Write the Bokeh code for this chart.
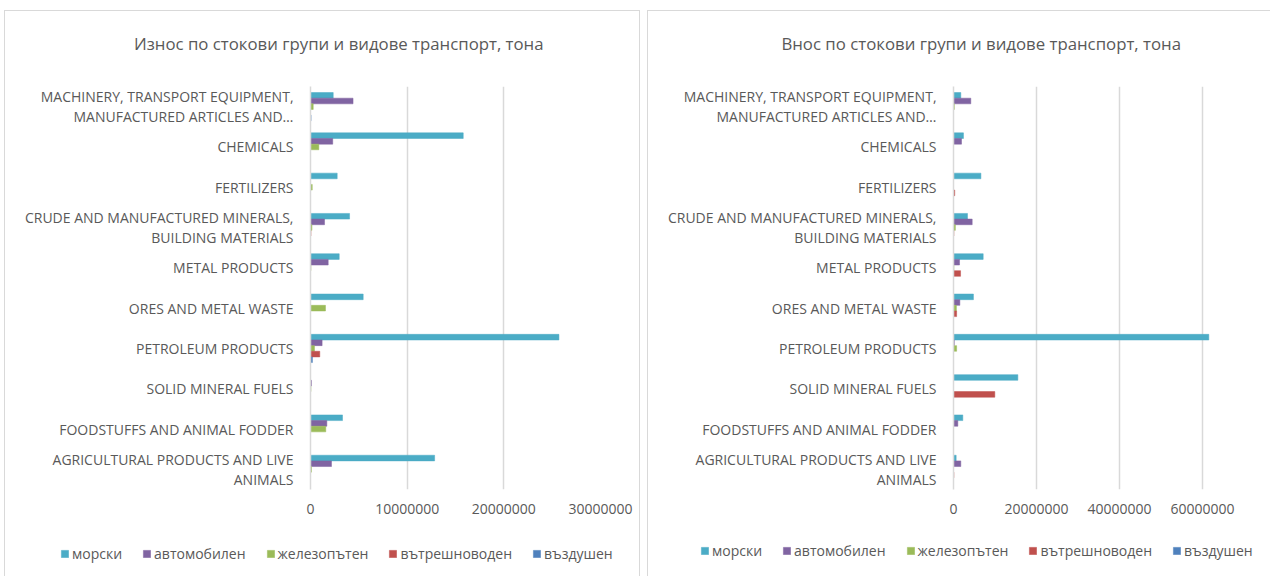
from bokeh.plotting import figure
from bokeh.models import (ColumnDataSource, FactorRange, FixedTicker, BasicTickFormatter,
                          Legend, LegendItem, Range1d, Spacer, Label)
from bokeh.transform import dodge
from bokeh.layouts import row, column
from bokeh.embed import file_html
from bokeh.resources import INLINE

categories = [
    "AGRICULTURAL PRODUCTS AND LIVE\nANIMALS",
    "FOODSTUFFS AND ANIMAL FODDER",
    "SOLID MINERAL FUELS",
    "PETROLEUM PRODUCTS",
    "ORES AND METAL WASTE",
    "METAL PRODUCTS",
    "CRUDE AND MANUFACTURED MINERALS,\nBUILDING MATERIALS",
    "FERTILIZERS",
    "CHEMICALS",
    "MACHINERY, TRANSPORT EQUIPMENT,\nMANUFACTURED ARTICLES AND…",
]
series_names = ["морски", "автомобилен", "железопътен", "вътрешноводен", "въздушен"]
colors = ["#4BACC6", "#8064A2", "#9BBB59", "#C0504D", "#4F81BD"]

# Export (Износ), tonnes
exp_morski = [12840000, 3310000, 0, 25700000, 5450000, 2970000, 4040000, 2760000, 15800000, 2350000]
exp_avto = [2170000, 1690000, 100000, 1200000, 0, 1830000, 1450000, 0, 2300000, 4400000]
exp_zhp = [100000, 1580000, 50000, 410000, 1550000, 50000, 150000, 180000, 860000, 280000]
exp_vatr = [0, 0, 0, 960000, 0, 0, 50000, 0, 0, 0]
exp_vazd = [0, 0, 0, 200000, 0, 0, 0, 0, 0, 60000]

# Import (Внос), tonnes
imp_morski = [640000, 2240000, 15500000, 61500000, 4800000, 7150000, 3370000, 6600000, 2400000, 1760000]
imp_avto = [1760000, 1040000, 0, 200000, 1530000, 1450000, 4500000, 0, 1930000, 4170000]
imp_zhp = [0, 0, 0, 750000, 700000, 100000, 450000, 0, 0, 200000]
imp_vatr = [100000, 0, 9950000, 0, 750000, 1700000, 100000, 300000, 0, 0]
imp_vazd = [0, 0, 0, 0, 0, 0, 0, 0, 0, 0]

exp_ticks = [0, 10000000, 20000000, 30000000]
imp_ticks = [0, 20000000, 40000000, 60000000]

exp_title = "Износ по стокови групи и видове транспорт, тона"
imp_title = "Внос по стокови групи и видове транспорт, тона"

FONT = "Open Sans"
TXT = "#595959"
BORDER = "1px solid #d9d9d9"
OFFSETS = [0.28, 0.14, 0.0, -0.14, -0.28]


def make_title(text, width, xfrac, styles):
    t = figure(width=width, height=50, output_backend="svg", toolbar_location=None,
               x_range=Range1d(0, 1), y_range=Range1d(0, 1), title_location=None,
               min_border_left=0, min_border_right=0, min_border_top=0, min_border_bottom=0)
    t.frame_align = False
    t.styles = styles
    t.axis.visible = False
    t.grid.visible = False
    t.outline_line_color = None
    t.add_layout(Label(x=xfrac, y=0.36, text=text, text_align="center",
                       text_baseline="middle", text_font=FONT, text_font_size="16.8px",
                       text_color=TXT))
    return t


def bars(p, src):
    rs = []
    for i, col in enumerate(colors):
        r = p.hbar(y=dodge("cat", OFFSETS[i], range=p.y_range), right=f"s{i}", left=0,
                   height=0.14, source=src, fill_color=col, line_color=col, line_alpha=0.5)
        rs.append(r)
    return rs


def make_chart(src, ticks, xend, width, border_left, border_right, styles):
    p = figure(y_range=FactorRange(*categories), x_range=Range1d(0, xend),
               width=width, height=470, output_backend="svg", toolbar_location=None,
               title_location=None,
               min_border_left=border_left, min_border_right=border_right,
               min_border_top=26, min_border_bottom=41)
    p.frame_align = False
    p.styles = styles
    p.outline_line_color = None
    bars(p, src)
    p.ygrid.grid_line_color = None
    p.xgrid.grid_line_color = "#d9d9d9"
    p.xgrid.grid_line_width = 1.5
    p.xaxis.ticker = FixedTicker(ticks=ticks)
    p.xaxis.formatter = BasicTickFormatter(use_scientific=False)
    p.xaxis.axis_line_color = None
    p.xaxis.major_tick_line_color = None
    p.xaxis.minor_tick_line_color = None
    p.xaxis.major_label_text_font = FONT
    p.xaxis.major_label_text_font_size = "14px"
    p.xaxis.major_label_text_color = TXT
    p.xaxis.major_label_standoff = 8
    p.yaxis.axis_line_color = "#d9d9d9"
    p.yaxis.axis_line_width = 1.5
    p.yaxis.major_tick_line_color = None
    p.yaxis.minor_tick_line_color = None
    p.yaxis.major_label_text_font = FONT
    p.yaxis.major_label_text_font_size = "14px"
    p.yaxis.major_label_text_color = TXT
    p.yaxis.major_label_text_line_height = 1.05
    p.yaxis.major_label_standoff = 11
    return p


def make_legend(src, width, legend_x, legend_y, styles):
    # the same bars, kept out of view; only their legend swatches show
    lp = figure(width=width, height=46, output_backend="svg", toolbar_location=None,
                y_range=FactorRange(*categories), x_range=Range1d(-2, -1),
                title_location=None,
                min_border_left=0, min_border_right=0, min_border_top=0, min_border_bottom=0)
    lp.frame_align = False
    lp.styles = styles
    lp.axis.visible = False
    lp.grid.visible = False
    lp.outline_line_color = None
    rs = bars(lp, src)
    items = [LegendItem(label=name, renderers=[r]) for name, r in zip(series_names, rs)]
    legend = Legend(items=items, orientation="horizontal", location=(legend_x, legend_y),
                    glyph_width=9, glyph_height=9, label_standoff=3, spacing=20,
                    label_text_font=FONT, label_text_font_size="14px", label_text_color=TXT,
                    border_line_color=None, background_fill_alpha=0, padding=0, margin=0)
    lp.add_layout(legend, "center")
    return lp


exp_src = ColumnDataSource(dict(cat=categories, s0=exp_morski, s1=exp_avto, s2=exp_zhp,
                                s3=exp_vatr, s4=exp_vazd))
imp_src = ColumnDataSource(dict(cat=categories, s0=imp_morski, s1=imp_avto, s2=imp_zhp,
                                s3=imp_vatr, s4=imp_vazd))

LW, RW = 636, 623
left_panel = column(
    make_title(exp_title, LW, 0.524,
               {"border-left": BORDER, "border-top": BORDER, "border-right": BORDER,
                "box-sizing": "border-box"}),
    make_chart(exp_src, exp_ticks, 30000000, LW, 305, 41,
               {"border-left": BORDER, "border-right": BORDER, "box-sizing": "border-box"}),
    make_legend(exp_src, LW, 55, 13,
                {"border-left": BORDER, "border-right": BORDER, "box-sizing": "border-box"}),
    spacing=0)
right_panel = column(
    make_title(imp_title, RW, 0.534,
               {"border-left": BORDER, "border-top": BORDER, "box-sizing": "border-box"}),
    make_chart(imp_src, imp_ticks, 76600000, RW, 305, 0,
               {"border-left": BORDER, "box-sizing": "border-box"}),
    make_legend(imp_src, RW, 52, 16, {"border-left": BORDER, "box-sizing": "border-box"}),
    spacing=0)

layout = column(Spacer(height=10),
                row(Spacer(width=4), left_panel, Spacer(width=7), right_panel, spacing=0),
                spacing=0)
open("out.html", "w").write(file_html(layout, INLINE))
